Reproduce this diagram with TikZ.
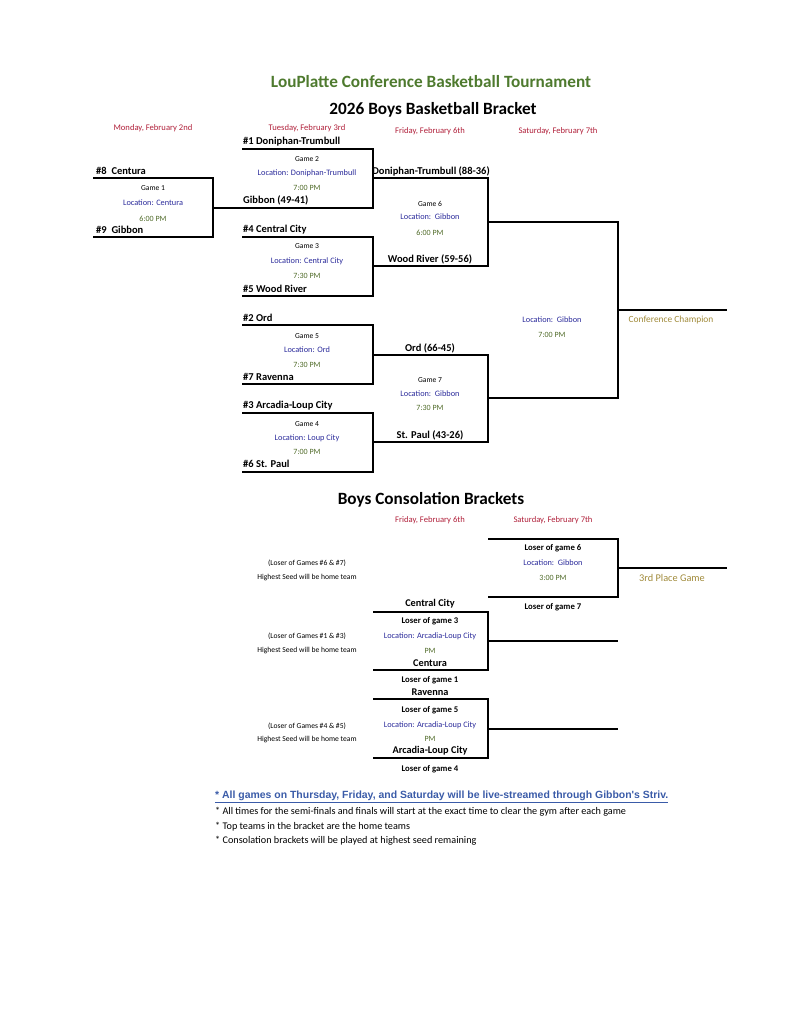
\documentclass[tikz,border=0pt]{standalone}
\usepackage{fontspec}
\setmainfont{Carlito}
\newfontfamily\arialf{Liberation Sans}
\definecolor{titlegreen}{HTML}{4E7A2E}
\definecolor{datered}{HTML}{B0203A}
\definecolor{locblue}{HTML}{2A2A9A}
\definecolor{timegreen}{HTML}{4F6A28}
\definecolor{champgold}{HTML}{A08A3A}
\definecolor{linkblue}{HTML}{3A5BA8}
\tikzset{
  team/.style={font=\fontsize{10.5}{12}\selectfont\bfseries, anchor=west, inner sep=0pt},
  cteam/.style={font=\fontsize{10.5}{12}\selectfont\bfseries, inner sep=0pt},
  conteam/.style={font=\fontsize{10.3}{12}\selectfont\bfseries, inner sep=0pt},
  gamelbl/.style={font=\fontsize{7.6}{9}\selectfont, inner sep=0pt},
  loserlbl/.style={font=\fontsize{8.7}{10}\selectfont\bfseries, inner sep=0pt},
  loclbl/.style={font=\fontsize{8.3}{10}\selectfont, text=locblue, inner sep=0pt},
  timelbl/.style={font=\fontsize{8}{10}\selectfont, text=timegreen, inner sep=0pt},
  datelbl/.style={font=\fontsize{8.6}{10}\selectfont, text=datered, inner sep=0pt},
  notelbl/.style={font=\fontsize{7.6}{9}\selectfont, inner sep=0pt},
  champ/.style={font=\fontsize{9.4}{11}\selectfont, text=champgold, inner sep=0pt},
  heading/.style={font=\fontsize{17.2}{20}\selectfont\bfseries, inner sep=0pt},
  foot/.style={font=\fontsize{10.2}{12}\selectfont, anchor=west, inner sep=0pt},
  bline/.style={line width=1.3pt, black}
}
\begin{document}
\begin{tikzpicture}[x=1pt,y=-1pt]
\useasboundingbox (0,0) rectangle (791,1024);
% titles
\node[heading, text=titlegreen] (title) at (431,82) {LouPlatte Conference Basketball Tournament};
\node[heading] (sub) at (433,110) {2026 Boys Basketball Bracket};
\node[datelbl] (d1) at (153,128) {Monday, February 2nd};
\node[datelbl] (d2) at (307,128) {Tuesday, February 3rd};
\node[datelbl] (d3) at (430,131) {Friday, February 6th};
\node[datelbl] (d4) at (558,131) {Saturday, February 7th};
% coordinates
\coordinate (g1tl) at (93,178); \coordinate (g1tr) at (213,178);
\coordinate (g1br) at (213,237); \coordinate (g1bl) at (93,237);
\coordinate (g1m) at (213,208);
\coordinate (g2tl) at (242,149); \coordinate (g2tr) at (373,149);
\coordinate (g2br) at (373,208); \coordinate (g2m) at (373,178);
\coordinate (g3tl) at (242,237); \coordinate (g3tr) at (373,237);
\coordinate (g3br) at (373,296); \coordinate (g3bl) at (242,296);
\coordinate (g3m) at (373,266);
\coordinate (g6t) at (488,178); \coordinate (g6b) at (488,266); \coordinate (g6m) at (488,222);
\coordinate (g5tl) at (242,325); \coordinate (g5tr) at (373,325);
\coordinate (g5br) at (373,384); \coordinate (g5bl) at (242,384);
\coordinate (g5m) at (373,355);
\coordinate (g4tl) at (242,413); \coordinate (g4tr) at (373,413);
\coordinate (g4br) at (373,472); \coordinate (g4bl) at (242,472);
\coordinate (g4m) at (373,442);
\coordinate (g7t) at (488,355); \coordinate (g7b) at (488,442); \coordinate (g7m) at (488,398);
\coordinate (ft) at (618,222); \coordinate (fb) at (618,398); \coordinate (fm) at (618,310);
\coordinate (champend) at (727,310);
% bracket lines
\draw[bline] (g1tl) -- (g1tr) -- (g1br) -- (g1bl);
\draw[bline] (g2tl) -- (g2tr) -- (g2br) -- (g1m);
\draw[bline] (g3tl) -- (g3tr) -- (g3br) -- (g3bl);
\draw[bline] (g2m) -- (g6t) -- (g6b) -- (g3m);
\draw[bline] (g5tl) -- (g5tr) -- (g5br) -- (g5bl);
\draw[bline] (g4tl) -- (g4tr) -- (g4br) -- (g4bl);
\draw[bline] (g5m) -- (g7t) -- (g7b) -- (g4m);
\draw[bline] (g6m) -- (ft) -- (fb) -- (g7m);
\draw[bline] (fm) -- (champend);
% game 1
\node[team] (t8) at (96,171) {\#8\ \ Centura};
\node[team] (t9) at (96,230) {\#9\ \ Gibbon};
\node[gamelbl] (g1n) at (153,188) {Game 1};
\node[loclbl] (g1l) at (153,203) {Location: Centura};
\node[timelbl] (g1t) at (153,219) {6:00 PM};
% game 2
\node[team] (t1) at (243,142) {\#1 Doniphan-Trumbull};
\node[gamelbl] (g2n) at (307,159) {Game 2};
\node[loclbl] (g2l) at (307,173) {Location: Doniphan-Trumbull};
\node[timelbl] (g2t) at (307,188) {7:00 PM};
\node[team] (w1) at (243,200) {Gibbon (49-41)};
% game 3
\node[team] (t4) at (243,230) {\#4 Central City};
\node[gamelbl] (g3n) at (307,246) {Game 3};
\node[loclbl] (g3l) at (307,261) {Location: Central City};
\node[timelbl] (g3t) at (307,276) {7:30 PM};
\node[team] (t5) at (243,289) {\#5 Wood River};
% game 6
\node[cteam] (w2) at (431,171) {Doniphan-Trumbull (88-36)};
\node[gamelbl] (g6n) at (430,204) {Game 6};
\node[loclbl] (g6l) at (430,217) {Location:\ \ Gibbon};
\node[timelbl] (g6t) at (430,233) {6:00 PM};
\node[cteam] (w3) at (430,259) {Wood River (59-56)};
% final
\node[loclbl] (fl) at (552,320) {Location:\ \ Gibbon};
\node[timelbl] (ftm) at (552,335) {7:00 PM};
\node[champ] (cc) at (671,320) {Conference Champion};
% game 5
\node[team] (t2) at (243,318) {\#2 Ord};
\node[gamelbl] (g5n) at (307,336) {Game 5};
\node[loclbl] (g5l) at (307,350) {Location: Ord};
\node[timelbl] (g5t) at (307,365) {7:30 PM};
\node[team] (t7) at (243,377) {\#7 Ravenna};
% game 4
\node[team] (t3) at (243,406) {\#3 Arcadia-Loup City};
\node[gamelbl] (g4n) at (307,424) {Game 4};
\node[loclbl] (g4l) at (307,438) {Location: Loup City};
\node[timelbl] (g4t) at (307,452) {7:00 PM};
\node[team] (t6) at (243,464) {\#6 St. Paul};
% game 7
\node[cteam] (w5) at (430,348) {Ord (66-45)};
\node[gamelbl] (g7n) at (430,380) {Game 7};
\node[loclbl] (g7l) at (430,394) {Location:\ \ Gibbon};
\node[timelbl] (g7t) at (430,408) {7:30 PM};
\node[cteam] (w4) at (430,435) {St. Paul (43-26)};
% consolation
\node[heading] (cons) at (431,500) {Boys Consolation Brackets};
\node[datelbl] (cd1) at (430,520) {Friday, February 6th};
\node[datelbl] (cd2) at (553,520) {Saturday, February 7th};
\coordinate (c3tl) at (488,539); \coordinate (c3tr) at (618,539);
\coordinate (c3br) at (618,597); \coordinate (c3bl) at (488,597);
\coordinate (c3m) at (618,568); \coordinate (c3end) at (727,568);
\coordinate (c1tl) at (373,612); \coordinate (c1tr) at (488,612);
\coordinate (c1br) at (488,670); \coordinate (c1bl) at (373,670);
\coordinate (c1m) at (488,641); \coordinate (c1end) at (618,641);
\coordinate (c2tl) at (373,699); \coordinate (c2tr) at (488,699);
\coordinate (c2br) at (488,758); \coordinate (c2bl) at (373,758);
\coordinate (c2m) at (488,729); \coordinate (c2end) at (618,729);
\draw[bline] (c3tl) -- (c3tr) -- (c3br) -- (c3bl);
\draw[bline] (c3m) -- (c3end);
\draw[bline] (c1tl) -- (c1tr) -- (c1br) -- (c1bl);
\draw[bline] (c1m) -- (c1end);
\draw[bline] (c2tl) -- (c2tr) -- (c2br) -- (c2bl);
\draw[bline] (c2m) -- (c2end);
% 3rd place
\node[loserlbl] (l6) at (553,548) {Loser of game 6};
\node[loclbl] (c3l) at (553,563) {Location:\ \ Gibbon};
\node[timelbl] (c3t) at (553,578) {3:00 PM};
\node[loserlbl] (l7) at (553,607) {Loser of game 7};
\node[champ, font=\fontsize{10.3}{12}\selectfont] (tp) at (672,578) {3rd Place Game};
\node[notelbl] (n1a) at (307,563) {(Loser of Games \#6 \& \#7)};
\node[notelbl] (n1b) at (307,578) {Highest Seed will be home team};
% consolation 1
\node[conteam] (cc1) at (430,604) {Central City};
\node[loserlbl] (l3) at (430,621) {Loser of game 3};
\node[loclbl] (c1l) at (430,636) {Location: Arcadia-Loup City};
\node[timelbl] (c1t) at (430,651) {PM};
\node[conteam] (cen) at (430,663) {Centura};
\node[loserlbl] (l1) at (430,680) {Loser of game 1};
\node[notelbl] (n2a) at (307,636) {(Loser of Games \#1 \& \#3)};
\node[notelbl] (n2b) at (307,651) {Highest Seed will be home team};
% consolation 2
\node[conteam] (rav) at (430,692) {Ravenna};
\node[loserlbl] (l5) at (430,710) {Loser of game 5};
\node[loclbl] (c2l) at (430,725) {Location: Arcadia-Loup City};
\node[timelbl] (c2t) at (430,739) {PM};
\node[conteam] (alc) at (430,751) {Arcadia-Loup City};
\node[loserlbl] (l4) at (430,769) {Loser of game 4};
\node[notelbl] (n3a) at (307,726) {(Loser of Games \#4 \& \#5)};
\node[notelbl] (n3b) at (307,740) {Highest Seed will be home team};
% footer
\node[foot, font=\arialf\fontsize{10.45}{12}\selectfont\bfseries, text=linkblue] (f1) at (215,797) {\underline{* All games on Thursday, Friday, and Saturday will be live-streamed through Gibbon's Striv.}};
\node[foot] (f2) at (215,812) {* All times for the semi-finals and finals will start at the exact time to clear the gym after each game};
\node[foot] (f3) at (215,827) {* Top teams in the bracket are the home teams};
\node[foot] (f4) at (215,841) {* Consolation brackets will be played at highest seed remaining};
\end{tikzpicture}
\end{document}
